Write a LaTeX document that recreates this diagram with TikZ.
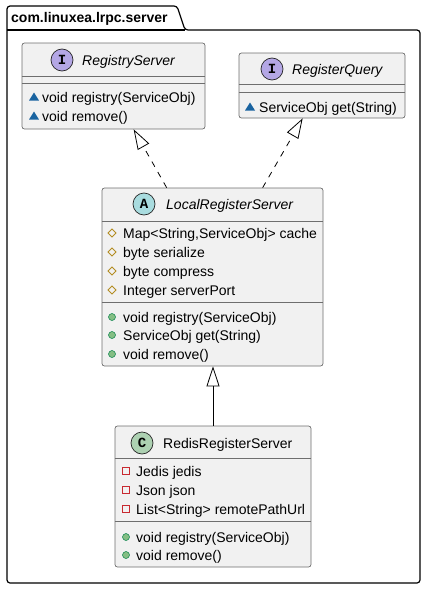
\documentclass[tikz,border=0pt]{standalone}
\usepackage{fontspec}
\setmainfont{Liberation Sans}
\newfontfamily\badgefont{Liberation Mono}
\usetikzlibrary{arrows.meta,calc}
\definecolor{boxfill}{HTML}{F1F1F1}
\definecolor{boxline}{HTML}{6E6E6E}
\definecolor{ifacebg}{HTML}{B4A7E5}
\definecolor{abstbg}{HTML}{A9DCDF}
\definecolor{classbg}{HTML}{ADD1B2}
\definecolor{pkgblue}{HTML}{1963A0}
\definecolor{protorange}{HTML}{B38D22}
\definecolor{pubgreen}{HTML}{84BE84}
\definecolor{publine}{HTML}{038048}
\definecolor{privred}{HTML}{C82930}
\tikzset{
  classbox/.style={draw=boxline,fill=boxfill,rounded corners=2.5pt,line width=0.7pt,inner sep=0pt},
  sepline/.style={draw=boxline,line width=0.7pt},
  badge/.style={circle,draw=black!85,line width=0.7pt,minimum size=22pt,inner sep=0pt,
    font=\badgefont\bfseries\fontsize{14}{14}\selectfont},
  ctitle/.style={anchor=west,inner sep=0pt,text height=13pt,text depth=3pt,font=\fontsize{14}{16}\selectfont},
  member/.style={anchor=west,inner sep=0pt,text height=13pt,text depth=3pt,font=\fontsize{14}{16}\selectfont},
  gen/.style={line width=0.8pt,-{Triangle[open,length=20pt,width=13pt]}},
  pkgvis/.pic={\fill[pkgblue] (-5,3.5) -- (5,3.5) -- (0,-4.5) -- cycle;},
  protvis/.pic={\draw[protorange,line width=0.8pt] (-4,0) -- (0,-4) -- (4,0) -- (0,4) -- cycle;},
  pubvis/.pic={\draw[publine,fill=pubgreen,line width=0.5pt] (0,0) circle (3.5);},
  privvis/.pic={\draw[privred,line width=0.8pt] (-3.5,-3.5) rectangle (3.5,3.5);}
}

\begin{document}
\begin{tikzpicture}[x=1pt,y=-1pt]
        \useasboundingbox (0,0) rectangle (427,589);
        % package
        \draw[line width=1.2pt,rounded corners=3pt] (7,30) -- (7,6) -- (177,6) -- (185,30) -- (420,30) -- (420,583) -- (7,583) -- cycle;
        \draw[line width=1.2pt] (7,30) -- (185,30);
        \node[anchor=west,inner sep=0pt,text height=13pt,text depth=3pt,font=\bfseries\fontsize{14}{16}\selectfont] (pkgname) at (11,18) {com.linuxea.lrpc.server};

        % class boxes
        \node[classbox,minimum width=183pt,minimum height=86pt] (rs) at (113.5,86) {};
        \node[classbox,minimum width=166pt,minimum height=65pt] (rq) at (322,85.5) {};
        \node[classbox,minimum width=221pt,minimum height=178pt] (lrs) at (212.5,277) {};
        \node[classbox,minimum width=196pt,minimum height=141pt] (rrs) at (213,496.5) {};

        % headers
        \node[badge,fill=ifacebg] (rs-badge) at (62,60) {I};
        \node[ctitle,font=\itshape\fontsize{14}{16}\selectfont] (rs-name) at (82,60) {RegistryServer};
        \node[badge,fill=ifacebg] (rq-badge) at (272,69) {I};
        \node[ctitle,font=\itshape\fontsize{14}{16}\selectfont] (rq-name) at (292,69) {RegisterQuery};
        \node[badge,fill=abstbg] (lrs-badge) at (144,204) {A};
        \node[ctitle,font=\itshape\fontsize{14}{16}\selectfont] (lrs-name) at (166,204) {LocalRegisterServer};
        \node[badge,fill=classbg] (rrs-badge) at (142,443) {C};
        \node[ctitle] (rrs-name) at (163,443) {RedisRegisterServer};

        % separators
        \foreach \b/\y in {rs/76,rs/83,rq/84,rq/92,lrs/221,lrs/302,rrs/458,rrs/521}
          \draw[sepline] (\b.west |- 0,\y) -- (\b.east |- 0,\y);

        % members
        \foreach \y/\txt [count=\i] in {97/void registry(ServiceObj),116/void remove()}{
          \pic at (34,\y) {pkgvis};
          \node[member] (rs-m\i) at (42,\y) {\txt};
        }
        \pic at (250,107) {pkgvis};
        \node[member] (rq-m1) at (259,107) {ServiceObj get(String)};
        \foreach \y/\txt [count=\i] in {233/{Map<String,ServiceObj> cache},252/byte serialize,271/byte compress,290/Integer serverPort}{
          \pic at (112,\y) {protvis};
          \node[member] (lrs-f\i) at (123,\y) {\txt};
        }
        \foreach \y/\txt [count=\i] in {317/void registry(ServiceObj),335/ServiceObj get(String),354/void remove()}{
          \pic at (112,\y) {pubvis};
          \node[member] (lrs-m\i) at (123,\y) {\txt};
        }
        \foreach \y/\txt [count=\i] in {471/Jedis jedis,490/Json json,509/List<String> remotePathUrl}{
          \pic at (126,\y) {privvis};
          \node[member] (rrs-f\i) at (136,\y) {\txt};
        }
        \foreach \y/\txt [count=\i] in {537/void registry(ServiceObj),555/void remove()}{
          \pic at (126,\y) {pubvis};
          \node[member] (rrs-m\i) at (136,\y) {\txt};
        }

        % inheritance
        \draw[gen,dash pattern=on 6pt off 6pt] ($(lrs.north west)+(65,0)$) -- ($(rs.south west)+(112,0)$);
        \draw[gen,dash pattern=on 6pt off 6pt] ($(lrs.north west)+(161,0)$) -- ($(rq.south west)+(64,0)$);
        \draw[gen] (rrs.north) -- (lrs.south -| rrs.north);
      \end{tikzpicture}
\end{document}
